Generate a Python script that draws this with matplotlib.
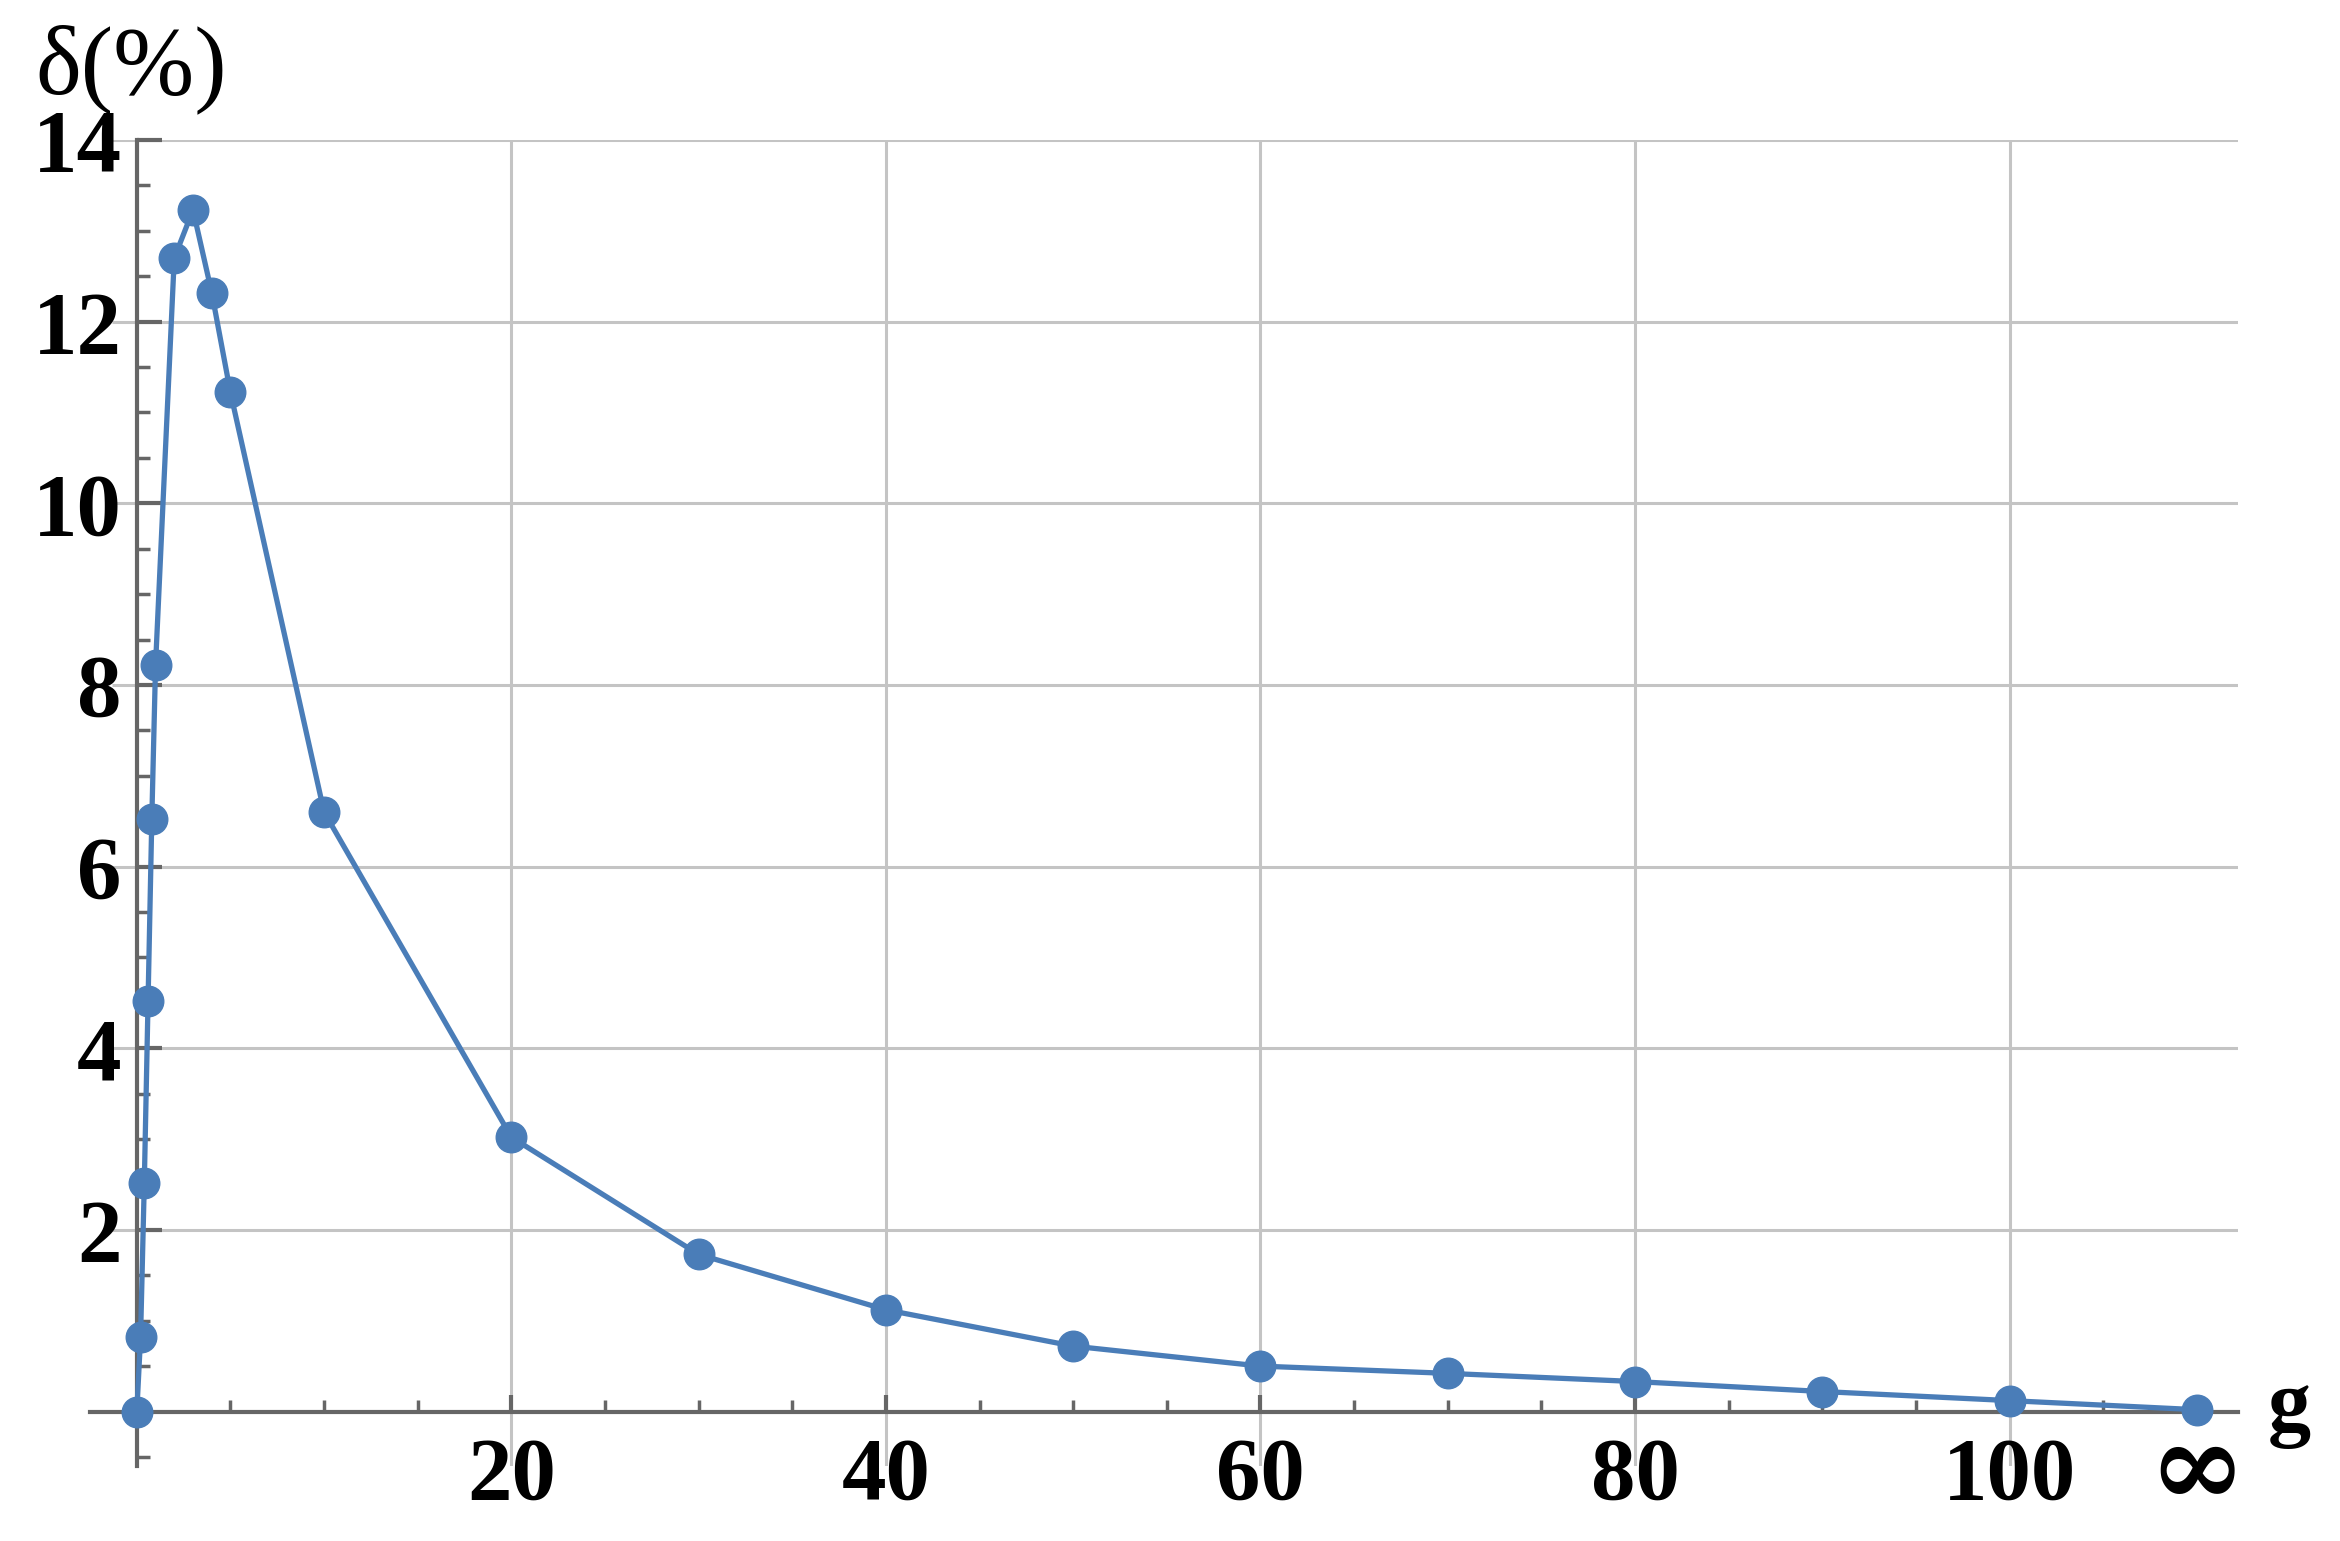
import matplotlib
matplotlib.use('Agg')
import matplotlib.pyplot as plt
from matplotlib.ticker import MultipleLocator
from matplotlib.transforms import blended_transform_factory

# data (g = 110 stands for infinity)
g = [0, 0.2, 0.4, 0.6, 0.8, 1, 2, 3, 4, 5, 10, 20, 30, 40, 50, 60, 70, 80, 90, 100, 110]
delta = [0.0, 0.82, 2.52, 4.52, 6.52, 8.22, 12.7, 13.23, 12.32, 11.22, 6.6,
         3.02, 1.73, 1.12, 0.72, 0.5, 0.42, 0.33, 0.22, 0.12, 0.02]

xticks = [20, 40, 60, 80, 100, 110]
xtick_labels = ['20', '40', '60', '80', '100', '']
inf_pos = 110
yticks = [2, 4, 6, 8, 10, 12, 14]
grid_x = [20, 40, 60, 80, 100]

plt.rcParams['font.family'] = ['Liberation Serif', 'DejaVu Serif']

W, H = 2340, 1541
fig = plt.figure(figsize=(W / 100, H / 100), dpi=100)
ax = fig.add_axes([90 / W, (H - 1466) / H, (2238 - 90) / W, (1466 - 140) / H])
ax.set_xlim(-2.5, 112.2)
ax.set_ylim(-0.6, 14)

axis_col = '#666666'
grid_col = '#c4c4c4'
blue = '#4a7db8'

# grid
ax.hlines(yticks, -1.3, 112.2, color=grid_col, lw=2.2, zorder=1)
ax.vlines(grid_x, -0.6, 14, color=grid_col, lw=2.2, zorder=1)

ax.plot(g, delta, color=blue, lw=3.8, marker='o', markersize=22,
        markerfacecolor=blue, markeredgecolor=blue, zorder=3, clip_on=False)

for s in ['top', 'right']:
    ax.spines[s].set_visible(False)
ax.spines['left'].set_position(('data', 0))
ax.spines['bottom'].set_position(('data', 0))
for s in ['left', 'bottom']:
    ax.spines[s].set_color(axis_col)
    ax.spines[s].set_linewidth(3)
    ax.spines[s].set_zorder(2)

ax.set_xticks(xticks)
ax.set_xticklabels(xtick_labels)
ax.set_yticks(yticks)
ax.set_yticklabels([str(v) for v in yticks])
ax.xaxis.set_minor_locator(MultipleLocator(5))
ax.yaxis.set_minor_locator(MultipleLocator(0.5))

ax.tick_params(axis='both', which='major', direction='in', color=axis_col,
               width=3, labelsize=64)
ax.tick_params(axis='y', which='major', length=18, pad=11)
ax.tick_params(axis='x', which='major', length=12, pad=18)
ax.tick_params(axis='both', which='minor', direction='in', color=axis_col,
               width=2.5, length=9)
for lab in ax.get_xticklabels() + ax.get_yticklabels():
    lab.set_fontweight('bold')

# the infinity label sits a bit higher and larger than the other ticks
trans = blended_transform_factory(ax.transData, fig.transFigure)
ax.text(inf_pos, 1 - 1505 / H, '\u221e', transform=trans, fontsize=84,
        fontweight='bold', family='DejaVu Serif', ha='center', va='baseline')

fig.text(35 / W, 1 - 93 / H, '\u03b4(%)', fontsize=70, va='baseline', ha='left')
fig.text(2268 / W, 1 - 1430 / H, 'g', fontsize=62, fontweight='bold',
         va='baseline', ha='left')

fig.savefig('out.png', dpi=100, facecolor='white')
